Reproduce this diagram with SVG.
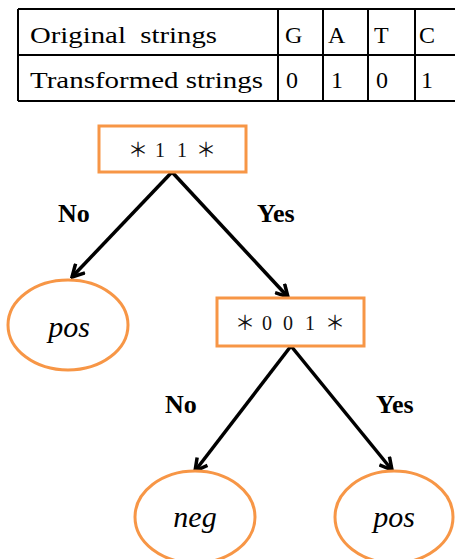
<svg xmlns="http://www.w3.org/2000/svg" width="455" height="559" viewBox="0 0 455 559">
  <style>
    .cell { font-family: 'Liberation Serif', 'Times New Roman', Tinos, 'Nimbus Roman', serif; font-size: 24px; fill: #000; }
    .grid { stroke: #000; stroke-width: 2; fill: none; }
    .node { fill: #fff; stroke: #F79646; stroke-width: 3; }
    .code { font-family: 'Liberation Serif', 'Times New Roman', 'Noto Sans CJK JP', serif; font-size: 20px; fill: #111; }
    .leaf { font-family: 'Liberation Serif', 'Times New Roman', serif; font-style: italic; font-size: 30px; fill: #000; text-anchor: middle; }
    .lbl { font-family: 'Liberation Serif', 'Times New Roman', serif; font-weight: bold; font-size: 26px; fill: #000; }
    .edge { stroke: #000; stroke-width: 3.5; fill: none; marker-end: url(#chev); }
  </style>
  <defs>
    <marker id="chev" viewBox="0 0 16 16" refX="14" refY="8" markerWidth="16" markerHeight="16" markerUnits="userSpaceOnUse" orient="auto">
      <path d="M2,1.5 L14,8 L2,14.5" stroke="#000" stroke-width="3.5" fill="none"/>
    </marker>
  </defs>

  <!-- encoding table -->
  <g id="table">
    <line class="grid" x1="18" y1="9" x2="455" y2="9"/>
    <line class="grid" x1="18" y1="55" x2="455" y2="55"/>
    <line class="grid" x1="18" y1="101" x2="455" y2="101"/>
    <line class="grid" x1="18" y1="9" x2="18" y2="101"/>
    <line class="grid" x1="278" y1="9" x2="278" y2="101"/>
    <line class="grid" x1="323" y1="9" x2="323" y2="101"/>
    <line class="grid" x1="368" y1="9" x2="368" y2="101"/>
    <line class="grid" x1="415" y1="9" x2="415" y2="101"/>
    <text class="cell" x="30" y="43" textLength="187" lengthAdjust="spacingAndGlyphs" xml:space="preserve">Original  strings</text>
    <text class="cell" x="30" y="88" textLength="233" lengthAdjust="spacingAndGlyphs">Transformed strings</text>
    <text class="cell" x="285" y="43">G</text>
    <text class="cell" x="328" y="43">A</text>
    <text class="cell" x="374" y="43">T</text>
    <text class="cell" x="419" y="43">C</text>
    <text class="cell" x="286" y="88">0</text>
    <text class="cell" x="331" y="88">1</text>
    <text class="cell" x="376" y="88">0</text>
    <text class="cell" x="421" y="88">1</text>
  </g>

  <!-- connectors -->
  <g id="edges">
    <line class="edge" x1="172" y1="172" x2="72" y2="277"/>
    <line class="edge" x1="172" y1="172" x2="288" y2="297"/>
    <line class="edge" x1="291" y1="346" x2="195" y2="471"/>
    <line class="edge" x1="291" y1="346" x2="392" y2="470"/>
    <text class="lbl" x="58" y="222">No</text>
    <text class="lbl" x="257" y="222">Yes</text>
    <text class="lbl" x="165" y="413">No</text>
    <text class="lbl" x="376" y="413">Yes</text>
  </g>

  <g id="root">
    <rect class="node" x="99" y="126" width="147" height="46"/>
    <text class="code" x="128 155 177 196" y="157">＊11＊</text>
  </g>

  <g id="leaf-pos-left">
    <ellipse class="node" cx="68" cy="325" rx="60" ry="45"/>
    <text class="leaf" x="69" y="337">pos</text>
  </g>

  <g id="split">
    <rect class="node" x="217" y="298" width="147" height="48"/>
    <text class="code" x="235 262 283 305 325" y="330">＊001＊</text>
  </g>

  <g id="leaf-neg">
    <ellipse class="node" cx="195" cy="517" rx="60" ry="46"/>
    <text class="leaf" x="195" y="527">neg</text>
  </g>

  <g id="leaf-pos-right">
    <ellipse class="node" cx="394" cy="517" rx="59" ry="46"/>
    <text class="leaf" x="394" y="527">pos</text>
  </g>
</svg>
